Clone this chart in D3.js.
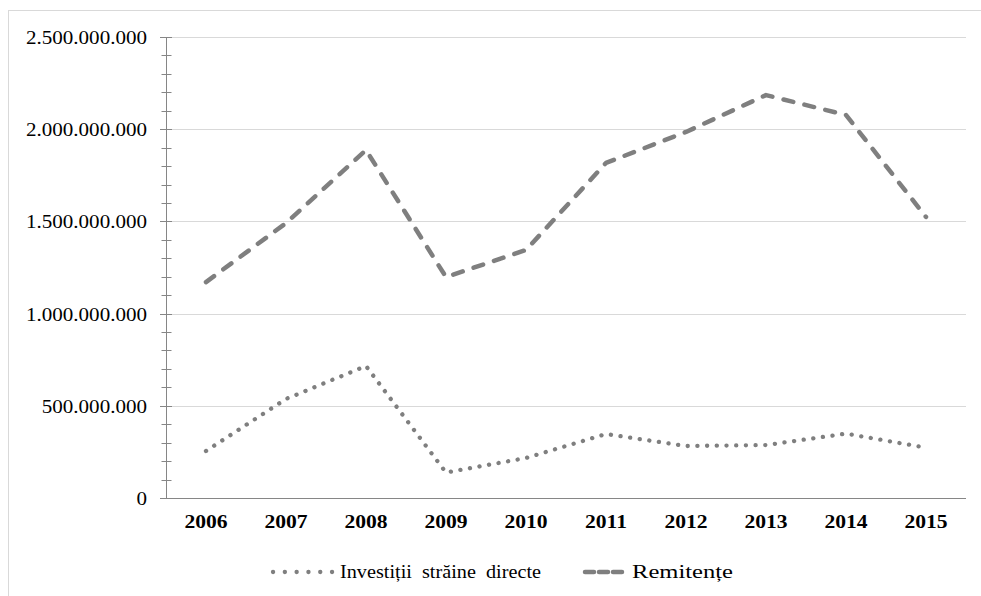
<!DOCTYPE html>
<html>
<head>
<meta charset="utf-8">
<script src="https://cdn.jsdelivr.net/npm/d3@7"></script>
<style>
  html, body { margin: 0; padding: 0; background: #fff; }
  svg { display: block; }
  text { font-family: "Liberation Serif", "DejaVu Serif", serif; fill: #000; }
</style>
</head>
<body>
<svg id="chart" width="981" height="596"></svg>
<script>
// Data
const years = ['2006', '2007', '2008', '2009', '2010', '2011', '2012', '2013', '2014', '2015'];
const fdi = [255e6, 537e6, 716e6, 138e6, 217e6, 347e6, 282e6, 287e6, 349e6, 273e6];
const remit = [1171e6, 1491e6, 1887e6, 1198e6, 1345e6, 1817e6, 1985e6, 2185e6, 2077e6, 1524e6];
const yTicks = [0, 500e6, 1000e6, 1500e6, 2000e6, 2500e6];
const seriesNames = ['Investiții  străine  directe', 'Remitențe'];

const W = 981, H = 596;
const plot = { left: 166, right: 966, top: 37, bottom: 498 };
const stretch = 1.17; // the reference text is a bit wide
const grey = '#7f7f7f';

const svg = d3.select('#chart');

// outer frame
svg.append('rect')
    .attr('x', 8.5).attr('y', 10.5)
    .attr('width', W).attr('height', H)
    .attr('fill', 'none')
    .attr('stroke', '#d9d9d9')
    .attr('stroke-width', 1);

const x = d3.scaleBand().domain(years).range([plot.left, plot.right]);
const y = d3.scaleLinear().domain([0, 2500e6]).range([plot.bottom, plot.top]);
const cx = d => x(d) + x.bandwidth() / 2;

const fmt = d3.formatLocale({ decimal: ',', thousands: '.', grouping: [3], currency: ['', ''] }).format(',');

// gridlines
svg.append('g')
    .selectAll('line')
    .data(yTicks.filter(d => d > 0))
    .join('line')
    .attr('x1', plot.left).attr('x2', plot.right)
    .attr('y1', d => Math.round(y(d)) + 0.5).attr('y2', d => Math.round(y(d)) + 0.5)
    .attr('stroke', '#d9d9d9');

// y axis line + ticks
const yAxis = svg.append('g');
yAxis.append('line')
    .attr('x1', plot.left + 0.5).attr('x2', plot.left + 0.5)
    .attr('y1', plot.top).attr('y2', plot.bottom)
    .attr('stroke', '#868686');

yAxis.selectAll('line.minor')
    .data(d3.range(100e6, 2500e6, 100e6).filter(d => d % 500e6 !== 0))
    .join('line')
    .attr('class', 'minor')
    .attr('x1', plot.left - 4.5).attr('x2', plot.left + 5.5)
    .attr('y1', d => Math.round(y(d)) + 0.5).attr('y2', d => Math.round(y(d)) + 0.5)
    .attr('stroke', '#868686');

yAxis.selectAll('line.major')
    .data(yTicks)
    .join('line')
    .attr('class', 'major')
    .attr('x1', plot.left - 6).attr('x2', plot.left + 6)
    .attr('y1', d => Math.round(y(d)) + 0.5).attr('y2', d => Math.round(y(d)) + 0.5)
    .attr('stroke', '#868686');

yAxis.selectAll('text')
    .data(yTicks)
    .join('text')
    .attr('transform', d => `translate(147,${y(d) + 7}) scale(${stretch},1)`)
    .attr('text-anchor', 'end')
    .attr('font-size', 18)
    .text(d => fmt(d));

// x axis
svg.append('line')
    .attr('x1', plot.left).attr('x2', plot.right)
    .attr('y1', plot.bottom + 0.5).attr('y2', plot.bottom + 0.5)
    .attr('stroke', '#868686');

svg.append('g')
    .selectAll('text')
    .data(years)
    .join('text')
    .attr('transform', d => `translate(${cx(d)},528) scale(1.2,1)`)
    .attr('text-anchor', 'middle')
    .attr('font-size', 18)
    .attr('font-weight', 'bold')
    .text(d => d);

// lines
const line = d3.line()
    .x((d, i) => cx(years[i]))
    .y(d => y(d));

const dotted = { width: 4.3, dash: '0.1,9.6', cap: 'round' };
const dashed = { width: 4.5, dash: '10,11.5', cap: 'round' };

svg.append('path')
    .datum(fdi)
    .attr('d', line)
    .attr('fill', 'none')
    .attr('stroke', grey)
    .attr('stroke-width', dotted.width)
    .attr('stroke-dasharray', dotted.dash)
    .attr('stroke-linecap', dotted.cap);

svg.append('path')
    .datum(remit)
    .attr('d', line)
    .attr('fill', 'none')
    .attr('stroke', grey)
    .attr('stroke-width', dashed.width)
    .attr('stroke-dasharray', dashed.dash)
    .attr('stroke-linecap', dashed.cap)
    .attr('stroke-linejoin', 'round');

// legend
const legend = [
    { name: seriesNames[0], style: dotted, x0: 273, x1: 334, tx: 340, len: 201, dash: '0.1,11.7' },
    { name: seriesNames[1], style: dashed, x0: 585, x1: 627, tx: 632, len: 101, dash: '9,5' }
];
const lg = svg.append('g').selectAll('g').data(legend).join('g');
lg.append('line')
    .attr('x1', d => d.x0).attr('x2', d => d.x1)
    .attr('y1', 572).attr('y2', 572)
    .attr('stroke', grey)
    .attr('stroke-width', d => d.style.width)
    .attr('stroke-dasharray', d => d.dash)
    .attr('stroke-linecap', 'round');
lg.append('text')
    .attr('x', d => d.tx).attr('y', 578)
    .attr('font-size', 18.5)
    .attr('textLength', d => d.len)
    .attr('lengthAdjust', 'spacingAndGlyphs')
    .style('white-space', 'pre')
    .text(d => d.name);
</script>
</body>
</html>
